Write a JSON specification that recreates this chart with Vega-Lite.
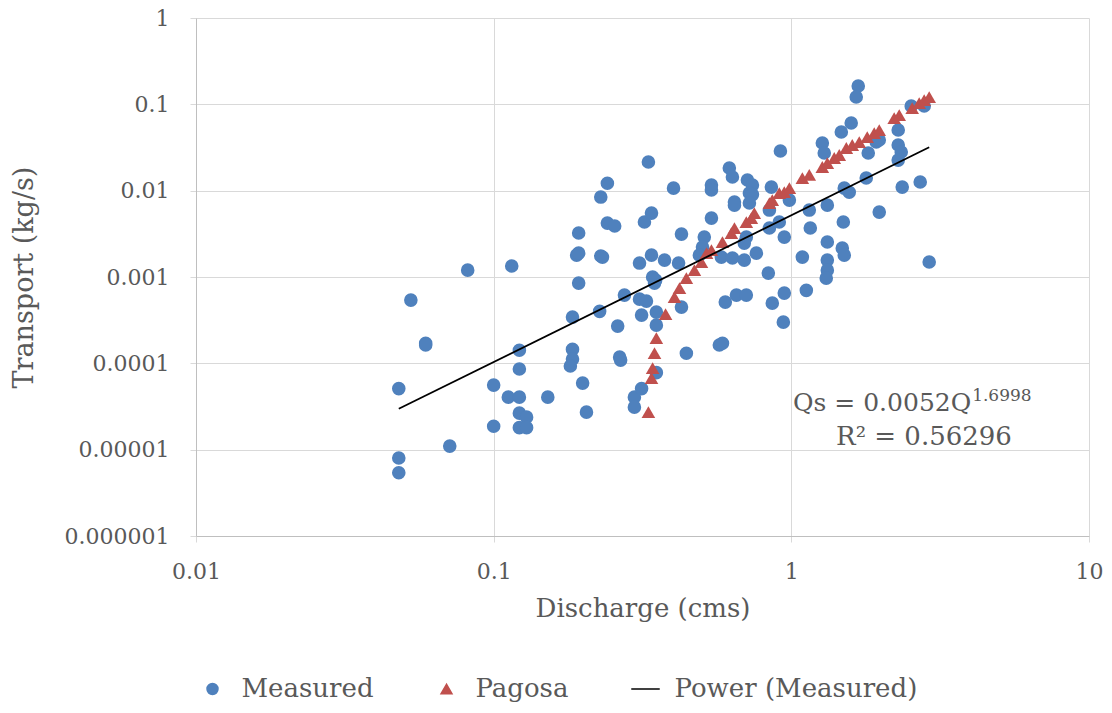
{
"$schema": "https://vega.github.io/schema/vega-lite/v6.json",
"width": 893, "height": 518,
"autosize": {"type": "none"},
"padding": {"left": 196, "top": 18, "right": 23, "bottom": 177},
"background": "white",
"config": {"view": {"stroke": null}, "font": "DejaVu Serif"},
"datasets": {
"obs": [
{"series":"Measured","Q":0.048,"Qs":5.1e-5},{"series":"Measured","Q":0.048,"Qs":8e-6},{"series":"Measured","Q":0.048,"Qs":5.4e-6},{"series":"Measured","Q":0.0527,"Qs":5.4e-4},{"series":"Measured","Q":0.0591,"Qs":1.71e-4},{"series":"Measured","Q":0.0591,"Qs":1.63e-4},{"series":"Measured","Q":0.0712,"Qs":1.1e-5},{"series":"Measured","Q":0.0818,"Qs":1.2e-3},{"series":"Measured","Q":0.1,"Qs":5.6e-5},{"series":"Measured","Q":0.1,"Qs":1.87e-5},{"series":"Measured","Q":0.115,"Qs":1.34e-3},{"series":"Measured","Q":0.112,"Qs":4.06e-5},{"series":"Measured","Q":0.122,"Qs":1.42e-4},{"series":"Measured","Q":0.122,"Qs":8.6e-5},{"series":"Measured","Q":0.122,"Qs":4.06e-5},{"series":"Measured","Q":0.122,"Qs":2.65e-5},{"series":"Measured","Q":0.129,"Qs":2.38e-5},{"series":"Measured","Q":0.122,"Qs":1.8e-5},{"series":"Measured","Q":0.129,"Qs":1.8e-5},{"series":"Measured","Q":0.152,"Qs":4.06e-5},
{"series":"Measured","Q":0.184,"Qs":1.45e-4},{"series":"Measured","Q":0.184,"Qs":1.12e-4},{"series":"Measured","Q":0.181,"Qs":9.3e-5},{"series":"Measured","Q":0.199,"Qs":5.9e-5},{"series":"Measured","Q":0.205,"Qs":2.72e-5},{"series":"Measured","Q":0.184,"Qs":3.43e-4},{"series":"Measured","Q":0.193,"Qs":8.5e-4},{"series":"Measured","Q":0.19,"Qs":1.79e-3},{"series":"Measured","Q":0.193,"Qs":1.89e-3},{"series":"Measured","Q":0.193,"Qs":3.23e-3},{"series":"Measured","Q":0.229,"Qs":8.43e-3},{"series":"Measured","Q":0.241,"Qs":0.0122},{"series":"Measured","Q":0.241,"Qs":4.21e-3},{"series":"Measured","Q":0.255,"Qs":3.9e-3},{"series":"Measured","Q":0.229,"Qs":1.75e-3},{"series":"Measured","Q":0.232,"Qs":1.7e-3},{"series":"Measured","Q":0.227,"Qs":4.0e-4},{"series":"Measured","Q":0.261,"Qs":2.7e-4},{"series":"Measured","Q":0.265,"Qs":1.18e-4},{"series":"Measured","Q":0.267,"Qs":1.09e-4},
{"series":"Measured","Q":0.275,"Qs":6.17e-4},{"series":"Measured","Q":0.331,"Qs":0.0215},{"series":"Measured","Q":0.402,"Qs":0.0107},{"series":"Measured","Q":0.321,"Qs":4.33e-3},{"series":"Measured","Q":0.339,"Qs":5.5e-3},{"series":"Measured","Q":0.4275,"Qs":3.14e-3},{"series":"Measured","Q":0.309,"Qs":1.45e-3},{"series":"Measured","Q":0.339,"Qs":1.79e-3},{"series":"Measured","Q":0.375,"Qs":1.57e-3},{"series":"Measured","Q":0.418,"Qs":1.45e-3},{"series":"Measured","Q":0.342,"Qs":1.0e-3},{"series":"Measured","Q":0.347,"Qs":8.5e-4},{"series":"Measured","Q":0.35,"Qs":9.2e-4},{"series":"Measured","Q":0.309,"Qs":5.54e-4},{"series":"Measured","Q":0.326,"Qs":5.26e-4},{"series":"Measured","Q":0.4275,"Qs":4.48e-4},{"series":"Measured","Q":0.314,"Qs":3.62e-4},{"series":"Measured","Q":0.352,"Qs":3.92e-4},{"series":"Measured","Q":0.352,"Qs":2.77e-4},{"series":"Measured","Q":0.352,"Qs":7.8e-5},
{"series":"Measured","Q":0.297,"Qs":4.06e-5},{"series":"Measured","Q":0.314,"Qs":5.1e-5},{"series":"Measured","Q":0.297,"Qs":3.11e-5},{"series":"Measured","Q":0.444,"Qs":1.31e-4},{"series":"Measured","Q":0.573,"Qs":1.63e-4},{"series":"Measured","Q":0.587,"Qs":1.71e-4},{"series":"Measured","Q":0.6,"Qs":5.12e-4},{"series":"Measured","Q":0.654,"Qs":6.17e-4},{"series":"Measured","Q":0.706,"Qs":6.17e-4},{"series":"Measured","Q":0.863,"Qs":4.98e-4},{"series":"Measured","Q":0.947,"Qs":6.51e-4},{"series":"Measured","Q":1.123,"Qs":7.0e-4},{"series":"Measured","Q":0.94,"Qs":3.0e-4},{"series":"Measured","Q":0.837,"Qs":1.11e-3},{"series":"Measured","Q":0.539,"Qs":0.0116},{"series":"Measured","Q":0.539,"Qs":0.0102},{"series":"Measured","Q":0.619,"Qs":0.0183},{"series":"Measured","Q":0.634,"Qs":0.0144},{"series":"Measured","Q":0.712,"Qs":0.0133},{"series":"Measured","Q":0.74,"Qs":0.0116},
{"series":"Measured","Q":0.723,"Qs":9.4e-3},{"series":"Measured","Q":0.74,"Qs":9.0e-3},{"series":"Measured","Q":0.644,"Qs":7.4e-3},{"series":"Measured","Q":0.644,"Qs":6.8e-3},{"series":"Measured","Q":0.723,"Qs":7.2e-3},{"series":"Measured","Q":0.857,"Qs":0.011},{"series":"Measured","Q":0.919,"Qs":0.0288},{"series":"Measured","Q":0.539,"Qs":4.81e-3},{"series":"Measured","Q":0.51,"Qs":2.9e-3},{"series":"Measured","Q":0.503,"Qs":2.22e-3},{"series":"Measured","Q":0.491,"Qs":1.79e-3},{"series":"Measured","Q":0.582,"Qs":1.7e-3},{"series":"Measured","Q":0.634,"Qs":1.66e-3},{"series":"Measured","Q":0.695,"Qs":1.57e-3},{"series":"Measured","Q":0.763,"Qs":1.89e-3},{"series":"Measured","Q":0.706,"Qs":2.9e-3},{"series":"Measured","Q":0.695,"Qs":2.47e-3},{"series":"Measured","Q":0.844,"Qs":3.69e-3},{"series":"Measured","Q":0.911,"Qs":4.33e-3},{"series":"Measured","Q":0.947,"Qs":2.9e-3},
{"series":"Measured","Q":0.844,"Qs":5.96e-3},{"series":"Measured","Q":0.985,"Qs":7.78e-3},{"series":"Measured","Q":1.149,"Qs":5.96e-3},{"series":"Measured","Q":1.321,"Qs":6.8e-3},{"series":"Measured","Q":1.158,"Qs":3.69e-3},{"series":"Measured","Q":1.495,"Qs":4.33e-3},{"series":"Measured","Q":1.321,"Qs":2.54e-3},{"series":"Measured","Q":1.483,"Qs":2.16e-3},{"series":"Measured","Q":1.506,"Qs":1.79e-3},{"series":"Measured","Q":1.321,"Qs":1.57e-3},{"series":"Measured","Q":1.321,"Qs":1.2e-3},{"series":"Measured","Q":1.31,"Qs":9.7e-4},{"series":"Measured","Q":1.089,"Qs":1.7e-3},{"series":"Measured","Q":1.271,"Qs":0.0356},{"series":"Measured","Q":1.29,"Qs":0.0273},{"series":"Measured","Q":1.589,"Qs":0.0607},{"series":"Measured","Q":1.472,"Qs":0.0478},{"series":"Measured","Q":1.678,"Qs":0.163},{"series":"Measured","Q":1.652,"Qs":0.1215},{"series":"Measured","Q":1.785,"Qs":0.014},
{"series":"Measured","Q":1.929,"Qs":0.0366},{"series":"Measured","Q":1.813,"Qs":0.0273},{"series":"Measured","Q":1.506,"Qs":0.0107},{"series":"Measured","Q":1.565,"Qs":9.6e-3},{"series":"Measured","Q":1.974,"Qs":5.65e-3},{"series":"Measured","Q":2.286,"Qs":0.0504},{"series":"Measured","Q":2.286,"Qs":0.0338},{"series":"Measured","Q":2.34,"Qs":0.028},{"series":"Measured","Q":2.286,"Qs":0.0226},{"series":"Measured","Q":2.358,"Qs":0.011},{"series":"Measured","Q":2.71,"Qs":0.0126},{"series":"Measured","Q":2.905,"Qs":1.49e-3},{"series":"Measured","Q":2.528,"Qs":0.0956},{"series":"Measured","Q":2.795,"Qs":0.0956},{"series":"Measured","Q":1.974,"Qs":0.0386},
{"series":"Pagosa","Q":0.331,"Qs":2.72e-5},{"series":"Pagosa","Q":0.339,"Qs":6.74e-5},{"series":"Pagosa","Q":0.342,"Qs":8.8e-5},{"series":"Pagosa","Q":0.347,"Qs":1.31e-4},{"series":"Pagosa","Q":0.352,"Qs":1.96e-4},{"series":"Pagosa","Q":0.378,"Qs":3.72e-4},{"series":"Pagosa","Q":0.405,"Qs":5.85e-4},{"series":"Pagosa","Q":0.421,"Qs":7.44e-4},{"series":"Pagosa","Q":0.444,"Qs":9.7e-4},{"series":"Pagosa","Q":0.4725,"Qs":1.2e-3},{"series":"Pagosa","Q":0.499,"Qs":1.49e-3},{"series":"Pagosa","Q":0.519,"Qs":1.89e-3},{"series":"Pagosa","Q":0.539,"Qs":2.05e-3},{"series":"Pagosa","Q":0.587,"Qs":2.54e-3},{"series":"Pagosa","Q":0.629,"Qs":3.23e-3},{"series":"Pagosa","Q":0.644,"Qs":3.69e-3},{"series":"Pagosa","Q":0.706,"Qs":4.33e-3},{"series":"Pagosa","Q":0.734,"Qs":4.81e-3},{"series":"Pagosa","Q":0.751,"Qs":5.5e-3},{"series":"Pagosa","Q":0.844,"Qs":7.18e-3},{"series":"Pagosa","Q":0.863,"Qs":7.78e-3},
{"series":"Pagosa","Q":0.911,"Qs":9.38e-3},{"series":"Pagosa","Q":0.947,"Qs":9.63e-3},{"series":"Pagosa","Q":0.985,"Qs":0.0107},{"series":"Pagosa","Q":1.089,"Qs":0.014},{"series":"Pagosa","Q":1.149,"Qs":0.0152},{"series":"Pagosa","Q":1.271,"Qs":0.0188},{"series":"Pagosa","Q":1.321,"Qs":0.0209},{"series":"Pagosa","Q":1.394,"Qs":0.0239},{"series":"Pagosa","Q":1.449,"Qs":0.0259},{"series":"Pagosa","Q":1.53,"Qs":0.0312},{"series":"Pagosa","Q":1.602,"Qs":0.0338},{"series":"Pagosa","Q":1.691,"Qs":0.0366},{"series":"Pagosa","Q":1.799,"Qs":0.0418},{"series":"Pagosa","Q":1.899,"Qs":0.0465},{"series":"Pagosa","Q":1.974,"Qs":0.0504},{"series":"Pagosa","Q":2.216,"Qs":0.0694},{"series":"Pagosa","Q":2.304,"Qs":0.0752},{"series":"Pagosa","Q":2.547,"Qs":0.0906},{"series":"Pagosa","Q":2.689,"Qs":0.1035},{"series":"Pagosa","Q":2.795,"Qs":0.112},{"series":"Pagosa","Q":2.905,"Qs":0.1215}
],
"trend": [
{"series":"Power (Measured)","Q":0.048,"Qs":2.98e-5},{"series":"Power (Measured)","Q":2.905,"Qs":0.0318}
]
},
"layer": [
{"data": {"name": "obs"},
 "mark": {"type": "point", "filled": true, "opacity": 1, "size": 185},
 "encoding": {
  "x": {"field": "Q", "type": "quantitative",
   "scale": {"type": "log", "domain": [0.01, 10], "nice": false},
   "axis": {"values": [0.01, 0.1, 1, 10], "labelExpr": "format(datum.value, '.2~f')", "title": "Discharge (cms)",
    "grid": true, "gridColor": "#D9D9D9", "gridWidth": 1, "domainColor": "#BFBFBF", "tickColor": "#D9D9D9", "tickSize": 6,
    "labelFont": "DejaVu Serif", "labelFontSize": 22, "labelColor": "#595959", "labelPadding": 19, "labelFlush": false,
    "titleFont": "DejaVu Serif", "titleFontSize": 26, "titleFontWeight": "normal", "titleColor": "#595959", "titlePadding": 13}},
  "y": {"field": "Qs", "type": "quantitative",
   "scale": {"type": "log", "domain": [0.000001, 1], "nice": false},
   "axis": {"values": [0.000001, 0.00001, 0.0001, 0.001, 0.01, 0.1, 1], "labelExpr": "format(datum.value, '.6~f')", "title": "Transport (kg/s)",
    "grid": true, "gridColor": "#D9D9D9", "gridWidth": 1, "domainColor": "#BFBFBF", "tickColor": "#D9D9D9", "tickSize": 6,
    "labelFont": "DejaVu Serif", "labelFontSize": 22, "labelColor": "#595959", "labelPadding": 21, "labelFlush": false,
    "titleFont": "DejaVu Serif", "titleFontSize": 27, "titleFontWeight": "normal", "titleColor": "#595959", "titlePadding": 26}},
  "color": {"field": "series", "type": "nominal",
   "scale": {"domain": ["Measured", "Pagosa", "Power (Measured)"], "range": ["#4F81BD", "#C0504D", "#000000"]},
   "legend": {"title": null, "orient": "none", "direction": "horizontal", "legendX": 3.5, "legendY": 658, "padding": 0,
    "labelFont": "DejaVu Serif", "labelFontSize": 26, "labelColor": "#595959", "labelLimit": 0, "symbolSize": 120, "labelOffset": 16, "columnPadding": 59,
    "encode": {"symbols": {"update": {
      "stroke": {"signal": "datum.value === 'Power (Measured)' ? 'black' : 'transparent'"},
      "strokeWidth": {"value": 2}}}}}},
  "shape": {"field": "series", "type": "nominal",
   "scale": {"domain": ["Measured", "Pagosa", "Power (Measured)"], "range": ["circle", "triangle-up", "M-2.6,0L2.6,0"]}}
 }},
{"data": {"name": "trend"},
 "mark": {"type": "line", "strokeWidth": 1.8},
 "encoding": {"x": {"field": "Q", "type": "quantitative"}, "y": {"field": "Qs", "type": "quantitative"},
  "color": {"field": "series", "type": "nominal"}}},
{"data": {"values": [{"label": "Qs = 0.0052Q", "Q": 4.02, "Qs": 3.46e-5}]},
 "mark": {"type": "text", "align": "right", "baseline": "middle", "font": "DejaVu Serif", "fontSize": 25, "color": "#595959"},
 "encoding": {"x": {"field": "Q", "type": "quantitative"}, "y": {"field": "Qs", "type": "quantitative"}, "text": {"field": "label"}}},
{"data": {"values": [{"label": "1.6998", "Q": 4.05, "Qs": 4.17e-5}]},
 "mark": {"type": "text", "align": "left", "baseline": "middle", "font": "DejaVu Serif", "fontSize": 17, "color": "#595959"},
 "encoding": {"x": {"field": "Q", "type": "quantitative"}, "y": {"field": "Qs", "type": "quantitative"}, "text": {"field": "label"}}},
{"data": {"values": [{"label": "R² = 0.56296", "Q": 2.79, "Qs": 1.4e-5}]},
 "mark": {"type": "text", "align": "center", "baseline": "middle", "font": "DejaVu Serif", "fontSize": 26, "color": "#595959"},
 "encoding": {"x": {"field": "Q", "type": "quantitative"}, "y": {"field": "Qs", "type": "quantitative"}, "text": {"field": "label"}}}
]
}
